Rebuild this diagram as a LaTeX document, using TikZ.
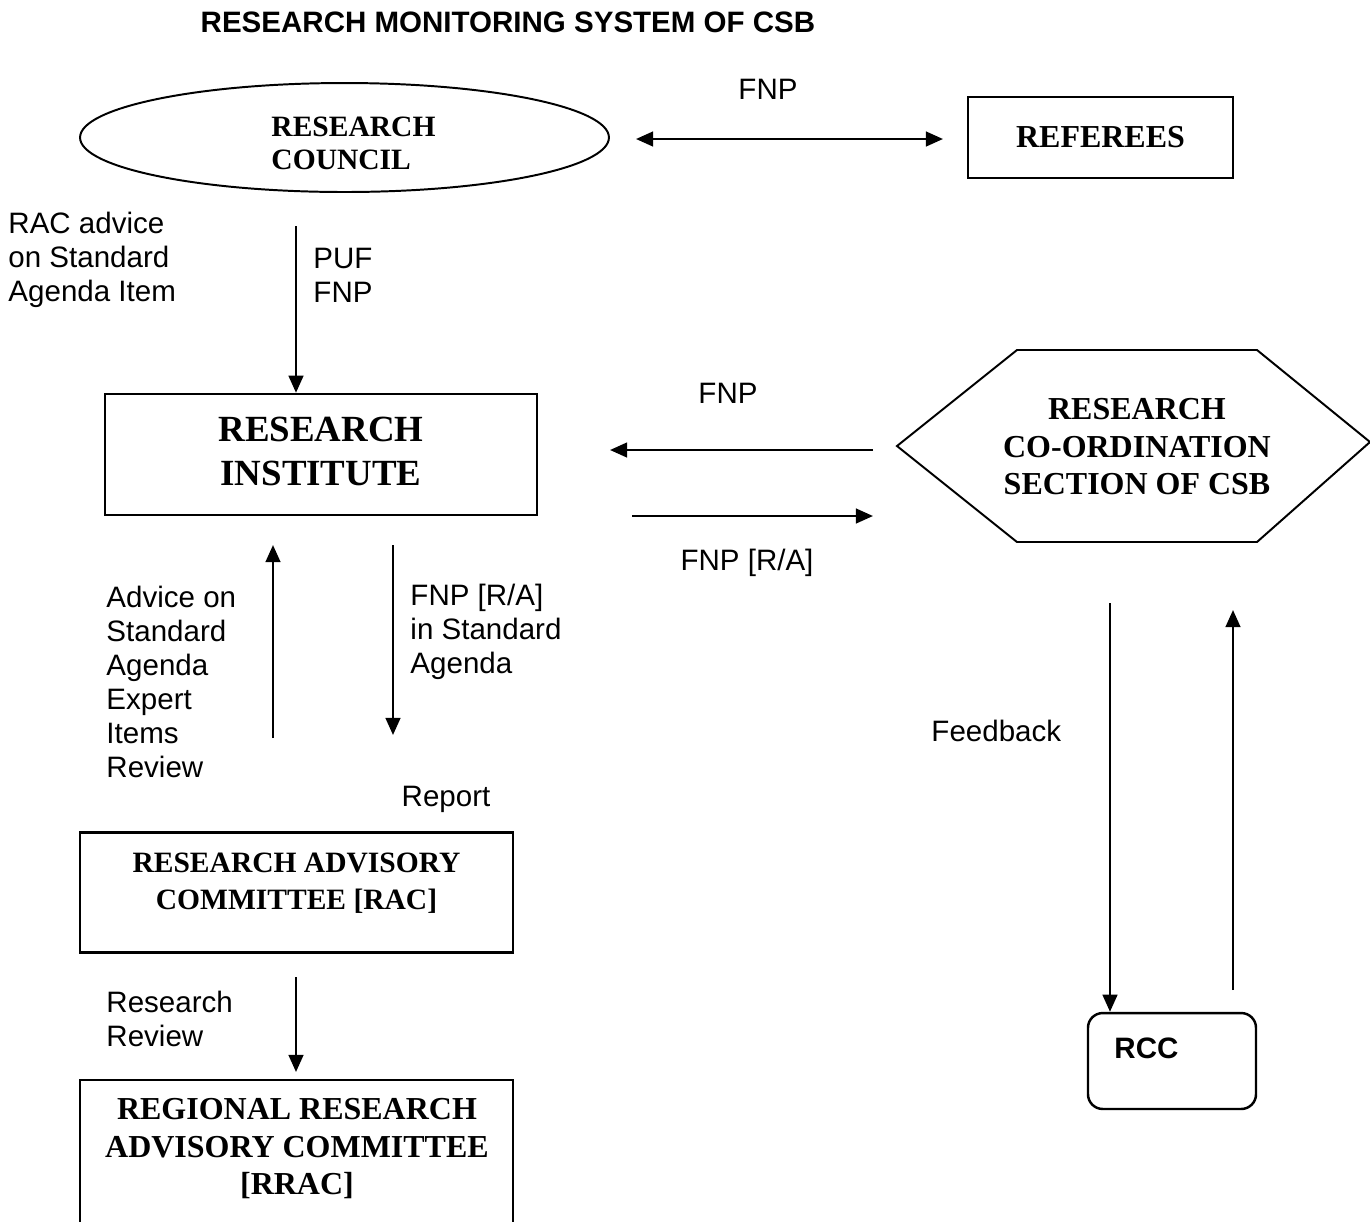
\documentclass[tikz,border=0pt]{standalone}
\usepackage{fontspec}
\setmainfont{Liberation Serif}
\setsansfont{Liberation Sans}
\usetikzlibrary{arrows.meta,shapes.geometric}
\tikzset{
  arr/.style={line width=1pt,-{Triangle[length=7pt,width=6pt]}},
  darr/.style={line width=1pt,{Triangle[length=7pt,width=6pt]}-{Triangle[length=7pt,width=6pt]}},
  box/.style={draw,line width=1pt,inner sep=0pt},
  lbl/.style={font=\sffamily\fontsize{12}{13.8}\selectfont,inner sep=0pt,align=left},
  ttl/.style={font=\bfseries\fontsize{12}{13.4}\selectfont,inner sep=0pt,align=center},
  ttlb/.style={font=\bfseries\fontsize{13}{15.25}\selectfont,inner sep=0pt,align=center},
}
\begin{document}
\begin{tikzpicture}[x=0.4065pt,y=-0.4065pt]
\useasboundingbox (0,0) rectangle (1370,1221);
\clip (0,0) rectangle (1370,1221);
% title
\node[font=\sffamily\bfseries\fontsize{12}{13.8}\selectfont,inner sep=0pt] (title) at (508,22) {RESEARCH MONITORING SYSTEM OF CSB};
% Research council ellipse
\node[ellipse,draw,line width=0.8pt,minimum width=215pt,minimum height=44.3pt,inner sep=0pt] (rc) at (344.5,137.5) {};
\node[ttl,align=left,anchor=west] (rct) at (271,143) {RESEARCH\\COUNCIL};
% referees
\node[box,minimum width=107.7pt,minimum height=32.9pt,font=\bfseries\fontsize{13}{15}\selectfont] (ref) at (1100.5,137.5) {REFEREES};
\coordinate (fa) at (636,139);
\coordinate (fb) at (943,139);
\draw[darr] (fa) -- (fb);
\node[lbl] (l1) at (768,89) {FNP};
% RC -> RI
\node[box,minimum width=175.6pt,minimum height=49.2pt] (ri) at (321,454.5) {};
\node[font=\bfseries\fontsize{15}{17.9}\selectfont,inner sep=0pt,align=center] (rit) at (321,451) {RESEARCH\\INSTITUTE};
\coordinate (c1) at (296,226);
\draw[arr] (c1) -- (c1 |- ri.north);
\node[lbl,anchor=west] (l2) at (8,260) {RAC advice\\on Standard\\Agenda Item};
\node[lbl,anchor=west] (l3) at (313,275) {PUF\\FNP};
% hexagon
\coordinate (h1) at (897,446);
\coordinate (h2) at (1017,350);
\coordinate (h3) at (1257,350);
\coordinate (h4) at (1370,442);
\coordinate (h5) at (1257,542);
\coordinate (h6) at (1017,542);
\draw[line width=0.8pt] (h1) -- (h2) -- (h3) -- (h4) -- (h5) -- (h6) -- cycle;
\node[ttlb] (hex) at (1137,447) {RESEARCH\\CO-ORDINATION\\SECTION OF CSB};
\coordinate (c2) at (873,450);
\coordinate (c3) at (610,450);
\draw[arr] (c2) -- (c3);
\coordinate (c4) at (632,516);
\coordinate (c5) at (873,516);
\draw[arr] (c4) -- (c5);
\node[lbl] (l4) at (728,393) {FNP};
\node[lbl] (l5) at (747,563) {FNP [R/A]};
% RI <-> RAC
\coordinate (c6) at (273,738);
\coordinate (c7) at (273,545);
\draw[arr] (c6) -- (c7);
\coordinate (c8) at (393,545);
\coordinate (c9) at (393,735);
\draw[arr] (c8) -- (c9);
\node[lbl,anchor=west] (l6) at (106,682) {Advice on\\Standard\\Agenda\\Expert\\Items\\Review};
\node[lbl,anchor=west] (l7) at (410,632) {FNP [R/A]\\in Standard\\Agenda};
\node[lbl] (l8) at (446,799) {Report};
% RAC
\node[box,minimum width=176pt,minimum height=48.8pt] (rac) at (296.5,892.5) {};
\node[font=\bfseries\fontsize{12}{15}\selectfont,inner sep=0pt,align=center] (ract) at (296.5,883) {RESEARCH ADVISORY\\COMMITTEE [RAC]};
% RRAC
\node[box,minimum width=176pt,minimum height=81.3pt] (rrac) at (296.5,1180) {};
\node[ttlb] (rract) at (297,1149) {REGIONAL RESEARCH\\ADVISORY COMMITTEE\\{}[RRAC]};
\coordinate (c10) at (296,977);
\coordinate (c11) at (296,1072);
\draw[arr] (c10) -- (c11);
\node[lbl,anchor=west] (l9) at (106,1019) {Research\\Review};
% RCC
\node[draw,line width=1pt,rounded corners=6pt,minimum width=68.3pt,minimum height=39pt,inner sep=0pt] (rcc) at (1172,1061) {};
\node[font=\sffamily\bfseries\fontsize{12}{13.8}\selectfont,inner sep=0pt,anchor=west] (rcct) at (1114,1048) {RCC};
\coordinate (c12) at (1110,603);
\draw[arr] (c12) -- (c12 |- rcc.north);
\coordinate (c13) at (1233,990);
\coordinate (c14) at (1233,610);
\draw[arr] (c13) -- (c14);
\node[lbl,anchor=west] (l10) at (931,731) {Feedback};
\end{tikzpicture}
\end{document}
